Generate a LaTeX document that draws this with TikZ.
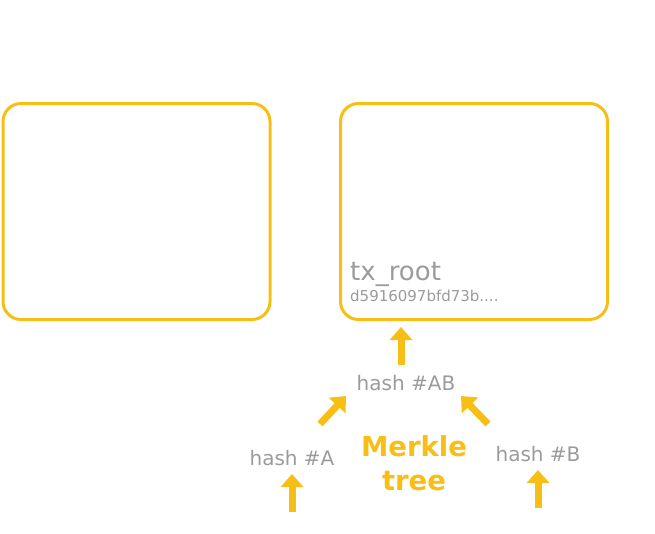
\documentclass[tikz,border=0pt]{standalone}
\usepackage{fontspec}
\setmainfont{DejaVu Sans}
\usetikzlibrary{arrows.meta}
\definecolor{gold}{HTML}{F7BE16}
\definecolor{txtgray}{HTML}{9B9B9B}
\tikzset{
  blockbox/.style={draw=gold, line width=3pt, rounded corners=18pt},
  uparrow/.style={draw=gold, line width=7pt, -{Triangle[width=22pt,length=13pt]}},
  hashtxt/.style={text=txtgray, font=\fontsize{20}{24}\selectfont, inner sep=0pt},
}
\begin{document}
\begin{tikzpicture}[x=1pt,y=-1pt]
\useasboundingbox (0,0) rectangle (655,533);
\node[blockbox, minimum width=267pt, minimum height=216pt, anchor=north west, inner sep=0pt] (blk1) at (1.5,102) {};
\node[blockbox, minimum width=267pt, minimum height=216pt, anchor=north west, inner sep=0pt] (blk2) at (339,102) {};
\node[anchor=base west, inner sep=0pt, text=txtgray, font=\fontsize{26}{30}\selectfont] (txroot) at (350,280) {tx\_root};
\node[anchor=base west, inner sep=0pt, text=txtgray, font=\fontsize{15}{18}\selectfont] (txhash) at (350,301) {d5916097bfd73b....};
\node[hashtxt, anchor=base] (hab) at (406,390) {hash \#AB};
\node[hashtxt, anchor=base] (ha) at (292,465) {hash \#A};
\node[hashtxt, anchor=base] (hb) at (538,461) {hash \#B};
\node[text=gold, font=\bfseries\fontsize{27.5}{34}\selectfont, align=center, inner sep=0pt] (merkle) at (414,463) {Merkle\\tree};
\coordinate (a1s) at (401,365); \coordinate (a1e) at (401,327);
\coordinate (a2s) at (292,512); \coordinate (a2e) at (292,474);
\coordinate (a3s) at (538,508); \coordinate (a3e) at (538,470);
\coordinate (a4s) at (320,424); \coordinate (a4e) at (346,396);
\coordinate (a5s) at (488,424); \coordinate (a5e) at (461,396);
\draw[uparrow] (a1s) -- (a1e);
\draw[uparrow] (a2s) -- (a2e);
\draw[uparrow] (a3s) -- (a3e);
\draw[uparrow] (a4s) -- (a4e);
\draw[uparrow] (a5s) -- (a5e);
\end{tikzpicture}
\end{document}
